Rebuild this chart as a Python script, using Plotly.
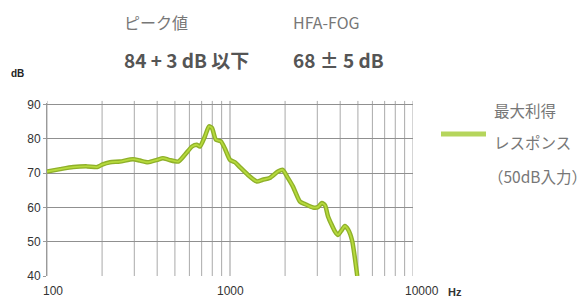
import numpy as np
import plotly.graph_objects as go

# --- data ---
freq_hz = [100, 118, 139, 166, 188, 200, 221, 250, 295, 322, 356, 399, 430, 464,
           521, 567, 620, 660, 685, 730, 768, 797, 837, 892, 936, 1000, 1065, 1132,
           1254, 1401, 1509, 1646, 1828, 1941, 2047, 2209, 2413, 2567, 2841, 3023,
           3175, 3309, 3433, 3748, 3893, 4080, 4244, 4415, 4640, 4960]
gain_db = [70.5, 71.2, 71.8, 72.0, 71.8, 72.5, 73.2, 73.4, 74.1, 73.7, 73.2, 73.9, 74.4, 73.9,
           73.4, 75.4, 77.8, 78.3, 77.8, 80.8, 83.7, 83.2, 79.8, 79.3, 77.3, 73.9, 73.2, 71.8,
           69.5, 67.6, 68.1, 68.6, 70.5, 71.0, 69.1, 66.1, 61.7, 61.0, 60.0, 60.1,
           61.3, 60.6, 57.4, 53.0, 52.0, 53.4, 54.6, 53.6, 50.5, 40.0]

y_ticks = [40, 50, 60, 70, 80, 90]
x_tick_labels = [(100, "100", 6), (1000, "1000", 0), (10000, "10000", 9)]
grid_freqs = [m * d for d in (100, 1000) for m in range(1, 10)] + [10000]

header_labels = ["ピーク値", "HFA-FOG"]
header_values = ["84 + 3 dB 以下", "68 ± 5 dB"]
legend_lines = ["最大利得", "レスポンス", "（50dB入力）"]

JP = "Noto Sans CJK JP, Noto Sans, sans-serif"
AR = "Liberation Sans, Arial, sans-serif"

W, H = 588, 308
OFF = 8  # page body offset
# desired plot box in window pixels
PL, PR, PT, PB = 47, 413, 103, 276
ML, MR, MT, MB = PL - OFF, W - PR + OFF, PT - OFF, H - PB + OFF
dom_w, dom_h = PR - PL, PB - PT

fig = go.Figure()
fig.add_trace(go.Scatter(x=freq_hz, y=gain_db, mode="lines",
                         line=dict(color="#8fb02a", width=4.5, shape="spline", smoothing=0.6),
                         hoverinfo="skip", showlegend=False))
fig.add_trace(go.Scatter(x=freq_hz, y=gain_db, mode="lines",
                         line=dict(color="#b6da3c", width=1.8, shape="spline", smoothing=0.6),
                         showlegend=False))

for g in grid_freqs:
    fig.add_shape(type="line", xref="x", yref="paper", x0=g, x1=g, y0=0, y1=1.012,
                  line=dict(color="#999999" if g == 1000 else "#aaaaaa", width=1),
                  layer="below")

fig.update_layout(
    width=W, height=H,
    margin=dict(l=ML, r=MR, t=MT, b=MB),
    paper_bgcolor="white", plot_bgcolor="white",
    xaxis=dict(type="log", range=[2, 4], showgrid=False, showticklabels=False,
               zeroline=False, showline=False, ticks=""),
    yaxis=dict(range=[40, 90.5], tickvals=y_ticks, ticktext=[str(v) for v in y_ticks],
               showgrid=True, gridcolor="#909090", gridwidth=1,
               showline=True, linecolor="#9a9a9a", linewidth=1,
               ticks="outside", ticklen=3, tickcolor="#9a9a9a",
               tickfont=dict(family=AR, size=12, color="#333333"), zeroline=False),
)

for f, txt, xs in x_tick_labels:
    fig.add_annotation(x=np.log10(f), y=0, xref="x", yref="paper", text=txt, showarrow=False,
                       xshift=xs, yshift=-24, font=dict(family=AR, size=12, color="#333333"))
fig.add_annotation(x=4.0, y=0, xref="x", yref="paper", text="<b>Hz</b>", showarrow=False,
                   xshift=42, yshift=-24, font=dict(family=AR, size=11, color="#333333"))


def page(x, y, text, size, color, family=JP, anchor="left"):
    fig.add_annotation(x=(x - PL) / dom_w, y=(PB - y) / dom_h,
                       xref="paper", yref="paper", text=text, showarrow=False,
                       xanchor=anchor, yanchor="middle",
                       font=dict(family=family, size=size, color=color))


page(9, 73, "<b>dB</b>", 10, "#222222", AR)
page(122, 22, header_labels[0], 16, "#777777")
page(291, 22, header_labels[1], 16, "#777777")
page(122, 60, "<b>" + header_values[0] + "</b>", 19, "#555555")
page(291, 60, "<b>" + header_values[1] + "</b>", 19, "#555555")
page(492, 110, legend_lines[0], 15.5, "#777777")
page(492, 142, legend_lines[1], 15.5, "#777777")
page(486, 176, legend_lines[2], 15.5, "#777777")

fig.add_shape(type="line", xref="paper", yref="paper",
              x0=(441 - PL) / dom_w, x1=(486 - PL) / dom_w,
              y0=(PB - 134) / dom_h, y1=(PB - 134) / dom_h,
              line=dict(color="#b5d55c", width=5))

fig.write_html("out.html")
